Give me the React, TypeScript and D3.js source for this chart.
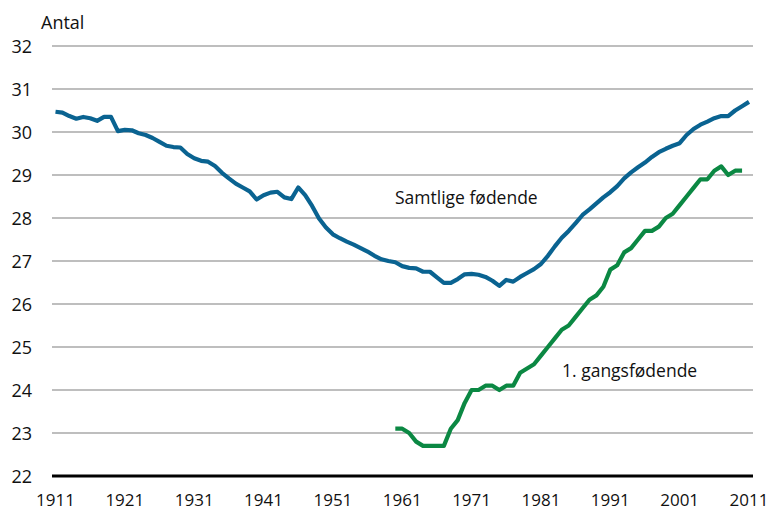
import React from "react";
import * as d3 from "d3";

const allYears = [
  1911, 1912, 1913, 1914, 1915, 1916, 1917, 1918, 1919, 1920,
  1921, 1922, 1923, 1924, 1925, 1926, 1927, 1928, 1929, 1930,
  1931, 1932, 1933, 1934, 1935, 1936, 1937, 1938, 1939, 1940,
  1941, 1942, 1943, 1944, 1945, 1946, 1947, 1948, 1949, 1950,
  1951, 1952, 1953, 1954, 1955, 1956, 1957, 1958, 1959, 1960,
  1961, 1962, 1963, 1964, 1965, 1966, 1967, 1968, 1969, 1970,
  1971, 1972, 1973, 1974, 1975, 1976, 1977, 1978, 1979, 1980,
  1981, 1982, 1983, 1984, 1985, 1986, 1987, 1988, 1989, 1990,
  1991, 1992, 1993, 1994, 1995, 1996, 1997, 1998, 1999, 2000,
  2001, 2002, 2003, 2004, 2005, 2006, 2007, 2008, 2009, 2010,
  2011,
];

// Samtlige fødende (all mothers), 1911–2011
const allMothers = [
  30.47, 30.45, 30.37, 30.31, 30.35, 30.32, 30.26, 30.35, 30.35, 30.02,
  30.05, 30.04, 29.97, 29.93, 29.86, 29.77, 29.68, 29.65, 29.64, 29.49,
  29.39, 29.33, 29.31, 29.21, 29.05, 28.92, 28.8, 28.71, 28.62, 28.43,
  28.53, 28.59, 28.61, 28.48, 28.44, 28.71, 28.53, 28.28, 27.99, 27.78,
  27.62, 27.53, 27.45, 27.38, 27.3, 27.22, 27.12, 27.04, 27.0, 26.97,
  26.88, 26.84, 26.83, 26.75, 26.75, 26.62, 26.49, 26.49, 26.58, 26.69,
  26.7, 26.68, 26.63, 26.54, 26.42, 26.56, 26.52, 26.63, 26.72, 26.81,
  26.93, 27.12, 27.34, 27.54, 27.7, 27.88, 28.07, 28.2, 28.34, 28.48,
  28.6, 28.74, 28.92, 29.06, 29.18, 29.29, 29.42, 29.53, 29.61, 29.68,
  29.74, 29.93, 30.07, 30.17, 30.24, 30.32, 30.37, 30.37, 30.5, 30.6,
  30.7,
];

const firstYears = [
  1960, 1961, 1962, 1963, 1964, 1965, 1966, 1967, 1968, 1969,
  1970, 1971, 1972, 1973, 1974, 1975, 1976, 1977, 1978, 1979,
  1980, 1981, 1982, 1983, 1984, 1985, 1986, 1987, 1988, 1989,
  1990, 1991, 1992, 1993, 1994, 1995, 1996, 1997, 1998, 1999,
  2000, 2001, 2002, 2003, 2004, 2005, 2006, 2007, 2008, 2009,
  2010,
];

// 1. gangsfødende (first-time mothers), 1960–2010
const firstMothers = [
  23.1, 23.1, 23.0, 22.8, 22.7, 22.7, 22.7, 22.7, 23.1, 23.3,
  23.7, 24.0, 24.0, 24.1, 24.1, 24.0, 24.1, 24.1, 24.4, 24.5,
  24.6, 24.8, 25.0, 25.2, 25.4, 25.5, 25.7, 25.9, 26.1, 26.2,
  26.4, 26.8, 26.9, 27.2, 27.3, 27.5, 27.7, 27.7, 27.8, 28.0,
  28.1, 28.3, 28.5, 28.7, 28.9, 28.9, 29.1, 29.2, 29.0, 29.1,
  29.1,
];

const xTicks = [1911, 1921, 1931, 1941, 1951, 1961, 1971, 1981, 1991, 2001, 2011];
const yTicks = [22, 23, 24, 25, 26, 27, 28, 29, 30, 31, 32];

const seriesLabels = ["Samtlige fødende", "1. gangsfødende"];
const yAxisTitle = "Antal";

const W = 770;
const H = 511;
const FONT = "'Open Sans', 'Noto Sans', sans-serif";
const BLUE = "#0a6391";
const GREEN = "#0b8843";

export default function App() {
  const x = d3.scaleLinear().domain([1911, 2011]).range([55.5, 749]);
  const y = d3.scaleLinear().domain([22, 32]).range([476, 46]);
  const gridX0 = 52;
  const gridX1 = 753;

  const line = d3
    .line<[number, number]>()
    .x((d) => x(d[0]))
    .y((d) => y(d[1]));

  const bluePts: [number, number][] = allYears.map((yr, i) => [yr, allMothers[i]]);
  const greenPts: [number, number][] = firstYears.map((yr, i) => [yr, firstMothers[i]]);

  return (
    <svg
      width={W}
      height={H}
      viewBox={`0 0 ${W} ${H}`}
      style={{ position: "absolute", left: 0, top: 0, background: "#fff" }}
      fontFamily={FONT}
    >
      <rect x={0} y={0} width={W} height={H} fill="#fff" />
      {yTicks
        .filter((t) => t !== 22)
        .map((t) => (
          <line
            key={`g${t}`}
            x1={gridX0}
            x2={gridX1}
            y1={y(t)}
            y2={y(t)}
            stroke="#a8a8a8"
            strokeWidth={1.6}
          />
        ))}
      <line x1={gridX0} x2={gridX1} y1={y(22)} y2={y(22)} stroke="#000" strokeWidth={3} />
      {yTicks.map((t) => (
        <text
          key={`yl${t}`}
          x={32}
          y={y(t) + 6.5}
          textAnchor="end"
          fontSize={18}
          fill="#111"
        >
          {t}
        </text>
      ))}
      {xTicks.map((t) => (
        <text
          key={`xl${t}`}
          x={x(t)}
          y={505.5}
          textAnchor="middle"
          fontSize={17}
          fill="#111"
        >
          {t}
        </text>
      ))}
      <text x={41} y={29} fontSize={18} fill="#111">
        {yAxisTitle}
      </text>
      <path
        d={line(bluePts) || ""}
        fill="none"
        stroke={BLUE}
        strokeWidth={4.2}
        strokeLinejoin="round"
        strokeLinecap="butt"
      />
      <path
        d={line(greenPts) || ""}
        fill="none"
        stroke={GREEN}
        strokeWidth={4.2}
        strokeLinejoin="round"
        strokeLinecap="butt"
      />
      <text x={395} y={204} fontSize={17.5} fill="#111">
        {seriesLabels[0]}
      </text>
      <text x={562} y={377} fontSize={17.5} fill="#111">
        {seriesLabels[1]}
      </text>
    </svg>
  );
}
